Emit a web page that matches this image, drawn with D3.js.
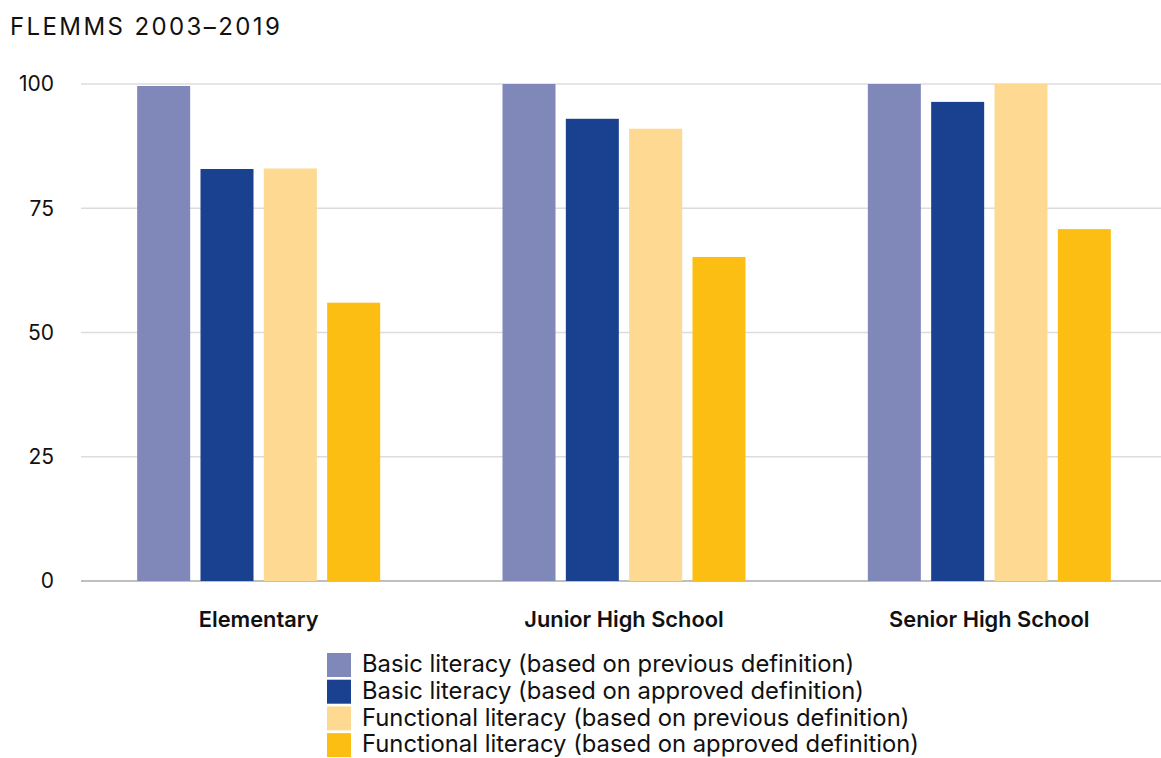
<!DOCTYPE html>
<html><head><meta charset="utf-8">
<script src="https://cdn.jsdelivr.net/npm/d3@7"></script>
<style>body{margin:0;background:#fff;} svg{display:block;font-family:Inter, "Open Sans", sans-serif;}</style>
</head><body>
<svg id="chart" width="1161" height="758"></svg>
<script>
const categories = ["Elementary", "Junior High School", "Senior High School"];
const seriesNames = [
  "Basic literacy (based on previous definition)",
  "Basic literacy (based on approved definition)",
  "Functional literacy (based on previous definition)",
  "Functional literacy (based on approved definition)"
];
const basicPrevious = [99.6, 100, 100];
const basicApproved = [82.9, 93.0, 96.4];
const functionalPrevious = [83.0, 91.0, 100];
const functionalApproved = [56.0, 65.2, 70.8];
const yTicks = [0, 25, 50, 75, 100];
const colors = ["#8088BA", "#19418F", "#FDD992", "#FDBE14"];

const series = [basicPrevious, basicApproved, functionalPrevious, functionalApproved];
const svg = d3.select("#chart");

const y = d3.scaleLinear().domain([0, 100]).range([581, 84]);
const x0 = d3.scaleBand().domain(categories).range([76, 1172]).paddingInner(0.3066).paddingOuter(0.1533);
const x1 = d3.scaleBand().domain(d3.range(4)).range([0, x0.bandwidth()]).paddingInner(0.163).paddingOuter(0.0815);

// title
svg.append("text").attr("x", 10).attr("y", 35).attr("font-size", 24).attr("letter-spacing", 2.4)
  .attr("fill", "#111").text("FLEMMS 2003–2019");

// gridlines
svg.append("g").selectAll("line").data(yTicks).join("line")
  .attr("x1", 81).attr("x2", 1161)
  .attr("y1", d => y(d)).attr("y2", d => y(d))
  .attr("stroke", d => d === 0 ? "#aaa" : "#dcdcdc").attr("stroke-width", 1.3);

// y labels
svg.append("g").selectAll("text").data(yTicks).join("text")
  .attr("x", 54).attr("y", d => y(d)).attr("dy", "0.35em").attr("text-anchor", "end")
  .attr("font-size", 21).attr("fill", "#111").text(d => d);

// bars
const g = svg.append("g").selectAll("g").data(categories).join("g")
  .attr("transform", c => `translate(${x0(c)},0)`);
g.selectAll("rect").data((c, ci) => series.map((s, si) => ({si, v: s[ci]}))).join("rect")
  .attr("x", d => x1(d.si)).attr("width", x1.bandwidth())
  .attr("y", d => y(d.v)).attr("height", d => y(0) - y(d.v))
  .attr("fill", d => colors[d.si]);

// x labels
svg.append("g").selectAll("text").data(categories).join("text")
  .attr("x", c => x0(c) + x0.bandwidth() / 2).attr("y", 627).attr("text-anchor", "middle")
  .attr("font-size", 21.8).attr("font-weight", 600).attr("fill", "#111").text(c => c);

// legend
const lg = svg.append("g").selectAll("g").data(seriesNames).join("g")
  .attr("transform", (d, i) => `translate(327,${653 + i * 26.7})`);
lg.append("rect").attr("width", 24).attr("height", 24).attr("fill", (d, i) => colors[i]);
lg.append("text").attr("x", 35).attr("y", 11).attr("dy", "0.35em").attr("font-size", 23.8)
  .attr("fill", "#111").text(d => d);
</script>
</body></html>
